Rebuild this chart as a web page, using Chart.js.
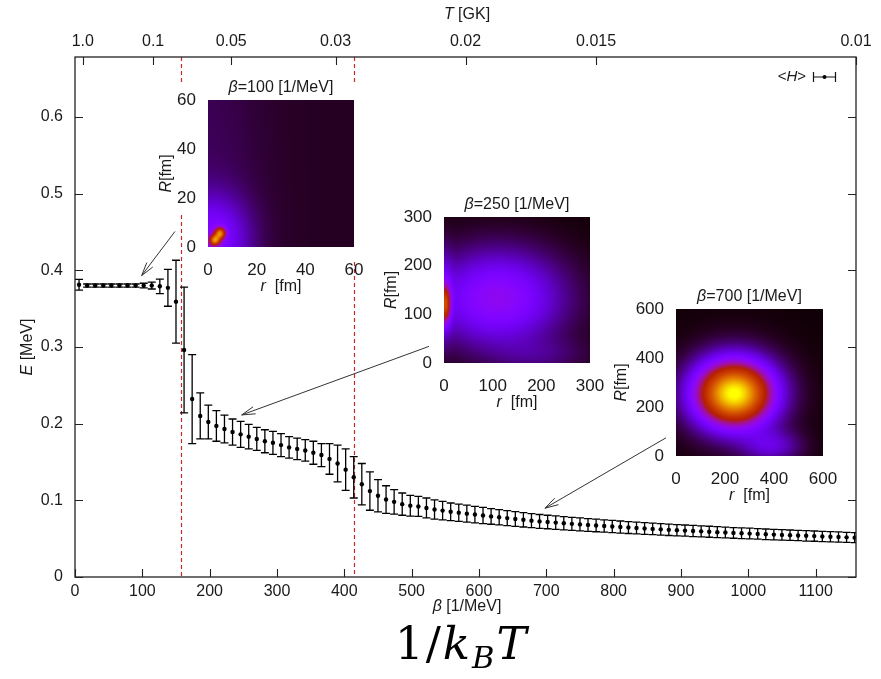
<!DOCTYPE html>
<html>
<head>
<meta charset="utf-8">
<script src="https://cdn.jsdelivr.net/npm/chart.js@4.4.1/dist/chart.umd.min.js"></script>
<style>
html,body{margin:0;padding:0;background:#ffffff;}
#wrap{position:relative;width:881px;height:679px;overflow:hidden;background:#fff;}
canvas{position:absolute;display:block;}
#kbt{position:absolute;left:395px;top:621px;font-family:'DejaVu Serif','Liberation Serif',serif;font-size:45px;line-height:1;color:#000;white-space:nowrap;letter-spacing:2px;}
#kbt i{font-style:italic;}
#kbt sub{font-size:0.68em;vertical-align:-0.28em;line-height:0;}
</style>
</head>
<body>
<div id="wrap">
<canvas id="main" width="881" height="679" style="left:0;top:0;width:881px;height:679px"></canvas>
<canvas id="in1" width="225" height="240" style="left:150px;top:66px;width:225px;height:240px"></canvas>
<canvas id="in2" width="230" height="240" style="left:380px;top:183px;width:230px;height:240px"></canvas>
<canvas id="in3" width="240" height="240" style="left:606px;top:275px;width:240px;height:240px"></canvas>
<div id="kbt">1/<i>k</i><sub><i>B</i></sub><i>T</i></div>
</div>
<script>
// ---------------- data ----------------
const beta = [6,18,30,42,54,66,78,90,102,114,126,138,150,162,174,186,198,210,222,234,
  246,258,270,282,294,306,318,330,342,354,366,378,390,402,414,426,438,450,462,474,
  486,498,510,522,534,546,558,570,582,594,606,618,630,642,654,666,678,690,702,714,
  726,738,750,762,774,786,798,810,822,834,846,858,870,882,894,906,918,930,942,954,
  966,978,990,1002,1014,1026,1038,1050,1062,1074,1086,1098,1110,1122,1134,1146,1158];
const energy = [0.381,0.380,0.380,0.380,0.380,0.380,0.380,0.380,0.380,0.380,
  0.379,0.377,0.359,0.296,0.232,0.210,0.202,0.197,0.193,0.189,
  0.186,0.183,0.180,0.177,0.175,0.172,0.169,0.167,0.165,0.162,
  0.159,0.154,0.148,0.140,0.130,0.121,0.112,0.106,0.101,0.098,
  0.095,0.093,0.092,0.090,0.088,0.0866,0.085,0.0838,0.0826,0.0814,
  0.0802,0.0790,0.0779,0.0768,0.0757,0.0746,0.0735,0.0725,0.0717,0.0709,
  0.0701,0.0693,0.0686,0.0679,0.0672,0.0665,0.0658,0.0651,0.0645,0.0639,
  0.0633,0.0627,0.0621,0.0615,0.0610,0.0605,0.0600,0.0595,0.0590,0.0585,
  0.0580,0.0575,0.0570,0.0566,0.0562,0.0557,0.0553,0.0549,0.0545,0.0541,
  0.0537,0.0533,0.0529,0.0525,0.0521,0.0517,0.0513];
const energyErr = [0.007,0.002,0.002,0.002,0.002,0.002,0.002,0.002,0.003,0.0045,
  0.0095,0.024,0.054,0.082,0.058,0.030,0.022,0.020,0.018,0.017,
  0.017,0.016,0.015,0.015,0.015,0.015,0.014,0.014,0.014,0.015,
  0.015,0.020,0.024,0.027,0.027,0.027,0.025,0.021,0.018,0.016,
  0.0145,0.0135,0.013,0.013,0.0125,0.012,0.0115,0.0112,0.011,0.0108,
  0.0105,0.0102,0.010,0.0098,0.0096,0.0094,0.0092,0.009,0.0088,0.0087,
  0.0086,0.0085,0.0084,0.0083,0.0082,0.0081,0.008,0.0079,0.0078,0.0077,
  0.0076,0.0075,0.0075,0.0074,0.0074,0.0073,0.0073,0.0072,0.0072,0.0071,
  0.0071,0.0070,0.0070,0.0070,0.0069,0.0069,0.0069,0.0068,0.0068,0.0068,
  0.0068,0.0067,0.0067,0.0067,0.0067,0.0066,0.0066];
const betaTicks = [0,100,200,300,400,500,600,700,800,900,1000,1100];
const energyTicks = [0,0.1,0.2,0.3,0.4,0.5,0.6];
const tempLabels = ['1.0','0.1','0.05','0.03','0.02','0.015','0.01'];
const tempBeta = [11.6,116,232,387,580,774,1160];
const markerBeta = [157,414.5];
// arrows: [fromBeta, fromE, toBeta, toE]
const arrows = [[148.5,0.4505,99,0.393],[525.8,0.3007,247.6,0.2113],[877.8,0.1815,698,0.0897]];
// inset density blobs: [r0, R0, sigma_r, sigma_R, amplitude]
const inset1Blobs = [[2,3,10,12,0.22],[0,30,15,50,0.035],[2.8,2.8,1.5,1.5,0.55],[5,5.6,1.5,1.6,0.55]];
const inset2Blobs = [[110,133,90,66,0.30],[0,140,12,60,0.12],[3,120,7,26,0.42],[200,15,70,25,0.06]];
const inset3Blobs = [[238,255,105,88,0.95],[235,245,150,140,0.06],[390,40,80,45,0.15]];
const insetBase = [0.022,0.005,0.004];
const insetRange = [60,300,600];
const insetStep = [20,100,200];
const insetBeta = ['100','250','700'];

// ---------------- helpers ----------------
const FONT = "'Liberation Sans', Arial, Helvetica, sans-serif";
const TXT = '#1a1a1a';
function drawRich(ctx, parts, x, y, size, align){
  let w = 0;
  parts.forEach(p => { ctx.font = (p.i ? 'italic ' : '') + size + 'px ' + FONT; w += ctx.measureText(p.t).width; });
  let cx = align === 'center' ? x - w/2 : (align === 'right' ? x - w : x);
  ctx.textBaseline = 'middle'; ctx.textAlign = 'left'; ctx.fillStyle = TXT;
  parts.forEach(p => { ctx.font = (p.i ? 'italic ' : '') + size + 'px ' + FONT; ctx.fillText(p.t, cx, y); cx += ctx.measureText(p.t).width; });
}
function palette(v){
  v = Math.max(0, Math.min(1, v));
  return [Math.sqrt(v)*255, v*v*v*255, Math.max(0, Math.sin(2*Math.PI*v))*255];
}
function zeroPad(s){ s.paddingLeft = 0; s.paddingRight = 0; s.paddingTop = 0; s.paddingBottom = 0; }

// ---------------- main chart ----------------
const redGaps = [[85,215],[85,262]];
const mainDecor = {
  id: 'mainDecor',
  beforeDatasetsDraw(chart){
    const {ctx, chartArea: a, scales: {x, y}} = chart;
    ctx.save();
    ctx.beginPath(); ctx.rect(a.left, a.top, a.right - a.left, a.bottom - a.top); ctx.clip();
    ctx.strokeStyle = '#c8282c'; ctx.lineWidth = 1.2; ctx.setLineDash([4,3]);
    markerBeta.forEach((b, i) => {
      const px = Math.round(x.getPixelForValue(b)) + 0.5, g = redGaps[i];
      ctx.beginPath(); ctx.moveTo(px, a.top); ctx.lineTo(px, g[0]); ctx.moveTo(px, g[1]); ctx.lineTo(px, a.bottom); ctx.stroke();
    });
    ctx.setLineDash([]);
    ctx.strokeStyle = '#000'; ctx.lineWidth = 1.3;
    beta.forEach((b, i) => {
      const px = x.getPixelForValue(b);
      const yt = y.getPixelForValue(energy[i] + energyErr[i]);
      const yb = y.getPixelForValue(energy[i] - energyErr[i]);
      ctx.beginPath();
      ctx.moveTo(px, yt); ctx.lineTo(px, yb);
      ctx.moveTo(px - 4, yt); ctx.lineTo(px + 4, yt);
      ctx.moveTo(px - 4, yb); ctx.lineTo(px + 4, yb);
      ctx.stroke();
    });
    ctx.restore();
  },
  afterDatasetsDraw(chart){
    const {ctx, chartArea: a, scales: {x, y, x2}} = chart;
    ctx.save();
    // arrows
    ctx.strokeStyle = '#333'; ctx.lineWidth = 1;
    arrows.forEach(ar => {
      const x0 = x.getPixelForValue(ar[0]), y0 = y.getPixelForValue(ar[1]);
      const x1 = x.getPixelForValue(ar[2]), y1 = y.getPixelForValue(ar[3]);
      const ang = Math.atan2(y0 - y1, x0 - x1), L = 14, h = 0.27;
      ctx.beginPath(); ctx.moveTo(x0, y0); ctx.lineTo(x1, y1); ctx.stroke();
      ctx.beginPath();
      ctx.moveTo(x1 + L*Math.cos(ang + h), y1 + L*Math.sin(ang + h));
      ctx.lineTo(x1, y1);
      ctx.lineTo(x1 + L*Math.cos(ang - h), y1 + L*Math.sin(ang - h));
      ctx.stroke();
    });
    // frame
    ctx.strokeStyle = '#222'; ctx.lineWidth = 1.3;
    ctx.strokeRect(a.left, a.top, a.right - a.left, a.bottom - a.top);
    // inward ticks
    ctx.lineWidth = 1.1; ctx.beginPath();
    betaTicks.forEach(v => { const p = Math.round(x.getPixelForValue(v)) + 0.5; ctx.moveTo(p, a.bottom); ctx.lineTo(p, a.bottom - 8); });
    tempBeta.forEach(v => { const p = Math.round(x2.getPixelForValue(v)) + 0.5; ctx.moveTo(p, a.top); ctx.lineTo(p, a.top + 8); });
    energyTicks.forEach(v => { const p = Math.round(y.getPixelForValue(v)) + 0.5; ctx.moveTo(a.left, p); ctx.lineTo(a.left + 8, p); ctx.moveTo(a.right, p); ctx.lineTo(a.right - 8, p); });
    ctx.stroke();
    // axis titles
    drawRich(ctx, [{t:'T', i:true}, {t:' [GK]'}], 467, 15, 16, 'center');
    drawRich(ctx, [{t:'β', i:true}, {t:' [1/MeV]'}], 467, 607, 16, 'center');
    ctx.save(); ctx.translate(28, 347); ctx.rotate(-Math.PI/2);
    drawRich(ctx, [{t:'E', i:true}, {t:' [MeV]'}], 0, 0, 16, 'center');
    ctx.restore();
    // key
    drawRich(ctx, [{t:'<'}, {t:'H', i:true}, {t:'>'}], 806, 77, 15, 'right');
    ctx.strokeStyle = '#111'; ctx.lineWidth = 1.2; ctx.beginPath();
    ctx.moveTo(813, 77); ctx.lineTo(836, 77);
    ctx.moveTo(813.5, 72); ctx.lineTo(813.5, 82);
    ctx.moveTo(835.5, 72); ctx.lineTo(835.5, 82);
    ctx.stroke();
    ctx.fillStyle = '#000'; ctx.beginPath(); ctx.arc(824.5, 77, 2, 0, 2*Math.PI); ctx.fill();
    ctx.restore();
  }
};

const tickFont = {family: FONT, size: 16};
new Chart(document.getElementById('main'), {
  type: 'scatter',
  data: { datasets: [{
    data: beta.map((b, i) => ({x: b, y: energy[i]})),
    pointRadius: 2.2, pointBackgroundColor: '#000', pointBorderWidth: 0, showLine: false
  }]},
  options: {
    responsive: false, animation: false, devicePixelRatio: 1,
    layout: {padding: {left: 0, right: 25, top: 0, bottom: 0}},
    plugins: {legend: {display: false}, tooltip: {enabled: false}},
    scales: {
      x: {type: 'linear', position: 'bottom', min: 0, max: 1160,
        afterBuildTicks: s => { s.ticks = betaTicks.map(v => ({value: v})); },
        afterFit: s => { s.height = 102; zeroPad(s); },
        ticks: {autoSkip: false, maxRotation: 0, minRotation: 0, padding: 5, color: TXT, font: tickFont, callback: v => String(v)},
        grid: {display: false, drawTicks: false}, border: {display: false}},
      x2: {type: 'linear', axis: 'x', position: 'top', min: 0, max: 1160,
        afterBuildTicks: s => { s.ticks = tempBeta.map(v => ({value: v})); },
        afterFit: s => { s.height = 57; zeroPad(s); },
        ticks: {autoSkip: false, maxRotation: 0, minRotation: 0, padding: 6, color: TXT, font: tickFont, callback: (v, i) => tempLabels[i]},
        grid: {display: false, drawTicks: false}, border: {display: false}},
      y: {type: 'linear', position: 'left', min: 0, max: 0.678,
        afterBuildTicks: s => { s.ticks = energyTicks.map(v => ({value: v})); },
        afterFit: s => { s.width = 75; zeroPad(s); },
        ticks: {autoSkip: false, padding: 12, color: TXT, font: tickFont, callback: v => v === 0 ? '0' : v.toFixed(1)},
        grid: {display: false, drawTicks: false}, border: {display: false}}
    }
  },
  plugins: [mainDecor]
});

// ---------------- insets ----------------
const insetLayout = [
  {id: 'in1', yW: 58, xH: 59, padR: 21, padT: 34, rOff: 41},
  {id: 'in2', yW: 64, xH: 60, padR: 20, padT: 34, rOff: 52},
  {id: 'in3', yW: 70, xH: 59, padR: 23, padT: 34, rOff: 54}
];
const insetBlobs = [inset1Blobs, inset2Blobs, inset3Blobs];

insetLayout.forEach((L, k) => {
  const blobs = insetBlobs[k], base = insetBase[k];
  const heat = {
    id: 'heat',
    beforeDatasetsDraw(chart){
      const {ctx, chartArea: a, scales: {x, y}} = chart;
      const w = Math.round(a.right - a.left), h = Math.round(a.bottom - a.top);
      const img = ctx.createImageData(w, h);
      for (let py = 0; py < h; py++) {
        const R = y.getValueForPixel(a.top + py + 0.5);
        for (let px = 0; px < w; px++) {
          const r = x.getValueForPixel(a.left + px + 0.5);
          let I = base;
          for (const b of blobs) {
            const dr = (r - b[0]) / b[2], dR = (R - b[1]) / b[3];
            I += b[4] * Math.exp(-0.5 * (dr*dr + dR*dR));
          }
          const c = palette(I), o = (py*w + px) * 4;
          img.data[o] = c[0]; img.data[o+1] = c[1]; img.data[o+2] = c[2]; img.data[o+3] = 255;
        }
      }
      ctx.putImageData(img, Math.round(a.left), Math.round(a.top));
    },
    afterDraw(chart){
      const {ctx, chartArea: a} = chart;
      const cx = (a.left + a.right) / 2, cy = (a.top + a.bottom) / 2;
      drawRich(ctx, [{t:'β', i:true}, {t:'=' + insetBeta[k] + ' [1/MeV]'}], cx, a.top - 12, 16, 'center');
      drawRich(ctx, [{t:'r', i:true}, {t:'  [fm]'}], cx, a.bottom + 40, 16, 'center');
      ctx.save(); ctx.translate(a.left - L.rOff, cy); ctx.rotate(-Math.PI/2);
      drawRich(ctx, [{t:'R', i:true}, {t:'[fm]'}], 0, 0, 16, 'center');
      ctx.restore();
    }
  };
  const f = {family: FONT, size: 17};
  new Chart(document.getElementById(L.id), {
    type: 'scatter',
    data: {datasets: []},
    options: {
      responsive: false, animation: false, devicePixelRatio: 1,
      layout: {padding: {left: 0, right: L.padR, top: L.padT, bottom: 0}},
      plugins: {legend: {display: false}, tooltip: {enabled: false}},
      scales: {
        x: {type: 'linear', min: 0, max: insetRange[k],
          afterFit: s => { s.height = L.xH; zeroPad(s); },
          ticks: {stepSize: insetStep[k], padding: 13, maxRotation: 0, color: TXT, font: f},
          grid: {display: false, drawTicks: false}, border: {display: false}},
        y: {type: 'linear', min: 0, max: insetRange[k],
          afterFit: s => { s.width = L.yW; zeroPad(s); },
          ticks: {stepSize: insetStep[k], padding: 12, color: TXT, font: f},
          grid: {display: false, drawTicks: false}, border: {display: false}}
      }
    },
    plugins: [heat]
  });
});
</script>
</body>
</html>
